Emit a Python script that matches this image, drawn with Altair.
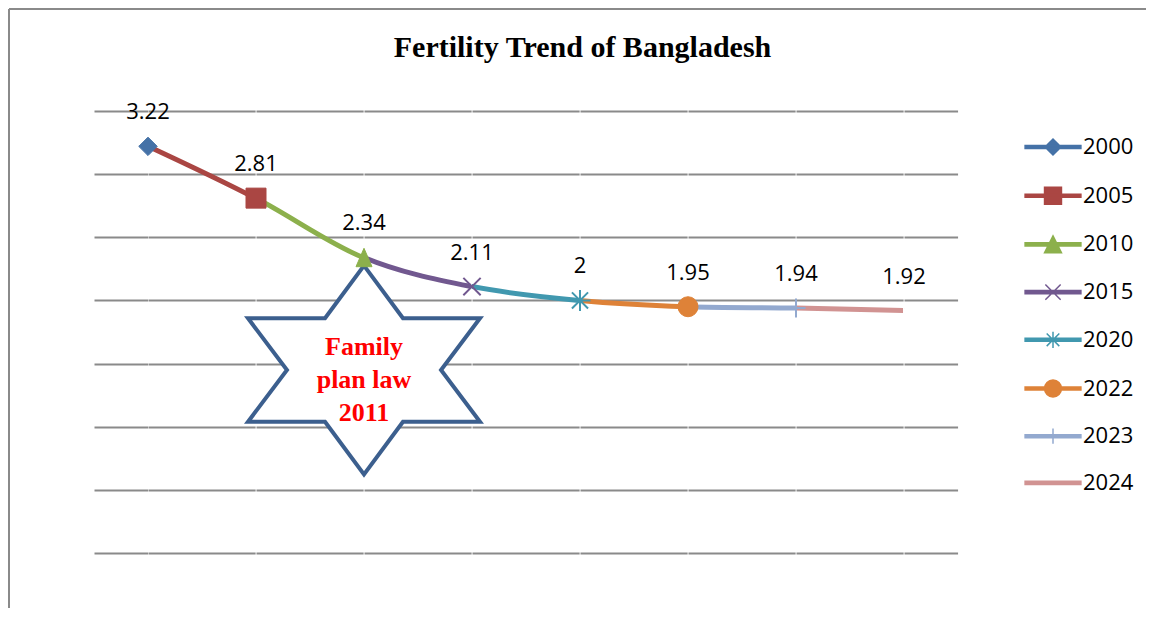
import altair as alt
import pandas as pd

# ---------------- data ----------------
years = ["2000", "2005", "2010", "2015", "2020", "2022", "2023", "2024"]
tfr = [3.22, 2.81, 2.34, 2.11, 2.0, 1.95, 1.94, 1.92]
labels = ["3.22", "2.81", "2.34", "2.11", "2", "1.95", "1.94", "1.92"]
colors = ["#4572A7", "#AA4643", "#8CB04C", "#71588F", "#4198AF", "#DE8238", "#93A9CF", "#D19392"]
grid_values = [0, 0.5, 1, 1.5, 2, 2.5, 3, 3.5]
title_text = "Fertility Trend of Bangladesh"
note_lines = ["Family", "plan law", "2011"]
note_pos = {"idx": 2, "star_y": 1.449, "text_y": 1.63}

df = pd.DataFrame({"idx": list(range(len(years))), "year": years, "tfr": tfr, "label": labels})

# ---------------- shapes ----------------
marker_defs = [
    ("diamond", 340, True),
    ("square", 400, True),
    ("M0,-1.15L1,1.15H-1Z", 256, True),
    ("M-1,-1L1,1M-1,1L1,-1", 300, False),
    ("M-1,-1L1,1M-1,1L1,-1M0,-1.3V1.3M-1.3,0H1.3", 260, False),
    ("circle", 400, True),
    ("M-1,0H1M0,-1V1", 361, False),
    (None, 0, False),
]
bar = "M-3.1,-0.17H3.1V0.17H-3.1Z"
legend_paths = [
    bar + "M-0.89,0L0,-0.89L0.89,0L0,0.89Z",
    bar + "M-0.94,-0.94H0.94V0.94H-0.94Z",
    bar + "M0,-0.94L0.94,0.94H-0.94Z",
    bar + "M-0.85,-0.85L0.85,0.85M-0.85,0.85L0.85,-0.85",
    bar + "M-0.7,-0.7L0.7,0.7M-0.7,0.7L0.7,-0.7M0,-0.9V0.9",
    bar + "M0.94,0A0.94,0.94,0,1,1,-0.94,0A0.94,0.94,0,1,1,0.94,0Z",
    bar + "M0,-0.85V0.85",
    bar,
]
star_path = ("M0,-0.9L0.336,-0.446L1,-0.446L0.664,0L1,0.446L0.336,0.446L0,0.9"
             "L-0.336,0.446L-1,0.446L-0.664,0L-1,-0.446L-0.336,-0.446Z")

# ---------------- layout ----------------
plot_w, plot_h = 857, 442
band = plot_w / len(years)
y_scale = alt.Scale(domain=[0, 3.5], nice=False, zero=False)
y_axis = alt.Axis(values=grid_values, grid=True, labels=False, ticks=False, domain=False,
                  title=None, gridColor="#8a8a8a", gridWidth=2)

legend_kw = dict(title=None, orient="none", legendX=948, legendY=25, labelFont="Open Sans",
                 labelFontSize=22, labelColor="black", symbolSize=324, labelOffset=19,
                 rowPadding=24.7, symbolStrokeWidth=1.5, symbolOpacity=1)

one = pd.DataFrame({"a": [0]})
panels = []
n = len(years)
for p in range(n + 1):
    if p == 0:
        dom, w = [-0.5, 0], band / 2
    elif p == n:
        dom, w = [n - 1, n - 0.5], band / 2
    else:
        dom, w = [p - 1, p], band
    xs = alt.X("idx:Q", scale=alt.Scale(domain=dom, nice=False, zero=False), axis=None)
    ys = alt.Y("tfr:Q", scale=y_scale, axis=y_axis)
    base = alt.Chart(df)
    line_color = colors[min(max(p, 1), n - 1)]
    layers = []
    if p == 0:
        # outer chart frame (top and left edges) and chart title
        layers.append(alt.Chart(one).mark_rule(stroke="#8a8a8a", strokeWidth=2).encode(
            x=alt.value(-85), x2=alt.value(1052), y=alt.value(-102)))
        layers.append(alt.Chart(one).mark_rule(stroke="#8a8a8a", strokeWidth=2).encode(
            x=alt.value(-85), y=alt.value(-102), y2=alt.value(497)))
        layers.append(alt.Chart(one).mark_text(
            text=title_text, font="Liberation Serif", fontSize=30, fontWeight="bold",
            color="black", align="center", baseline="middle").encode(
            x=alt.value(488.5), y=alt.value(-63)))
    layers.append(base.mark_line(interpolate="cardinal", clip=True, color=line_color,
                                 strokeWidth=5).encode(x=xs, y=ys))
    if p == 3:
        star = alt.Chart(pd.DataFrame({"idx": [note_pos["idx"]], "v": [note_pos["star_y"]]})).mark_point(
            shape=star_path, size=53824, filled=True, fill="white", stroke="#3C5F8E",
            strokeWidth=4, opacity=1, strokeJoin="miter").encode(
            x=xs, y=alt.Y("v:Q", scale=y_scale, axis=y_axis))
        layers.insert(len(layers) - 1, star)
    if p >= 1:
        k = p - 1
        pt = base.transform_filter(alt.datum.idx == k)
        shape, size, filled = marker_defs[k]
        if shape is not None:
            if filled:
                mk = pt.mark_point(shape=shape, size=size, filled=True, fill=colors[k],
                                   stroke=colors[k], strokeWidth=1, opacity=1)
            else:
                mk = pt.mark_point(shape=shape, size=size, filled=False, stroke=colors[k],
                                   strokeWidth=2, opacity=1)
            layers.append(mk.encode(x=xs, y=ys))
        layers.append(pt.mark_text(font="Open Sans", fontSize=22, color="black", dy=-34,
                                   baseline="middle", align="center").encode(
            x=xs, y=ys, text="label:N"))
    if p == 3:
        layers.append(alt.Chart(pd.DataFrame({"idx": [note_pos["idx"]], "v": [note_pos["text_y"]]})).mark_text(
            text=note_lines, font="Liberation Serif", fontSize=26, fontWeight="bold",
            color="#FF0000", lineHeight=33, baseline="middle", align="center").encode(
            x=xs, y=alt.Y("v:Q", scale=y_scale, axis=y_axis)))
    if p == n:
        layers.append(base.transform_filter("false").mark_point(filled=True, opacity=1).encode(
            x=xs, y=ys,
            fill=alt.Fill("year:N", scale=alt.Scale(domain=years, range=colors),
                          legend=alt.Legend(**legend_kw)),
            stroke=alt.Stroke("year:N", scale=alt.Scale(domain=years, range=colors),
                              legend=alt.Legend(**legend_kw)),
            shape=alt.Shape("year:N", scale=alt.Scale(domain=years, range=legend_paths),
                            legend=alt.Legend(**legend_kw)),
        ))
    panels.append(alt.layer(*layers).properties(width=w, height=plot_h))

chart = alt.hconcat(*panels, spacing=0, bounds="flush").properties(
    autosize=alt.AutoSizeParams(type="pad"),
    padding=0,
).configure(background="white").configure_view(strokeWidth=0, stroke="transparent")

chart.save("out.html", embed_options={"renderer": "svg", "actions": False})
